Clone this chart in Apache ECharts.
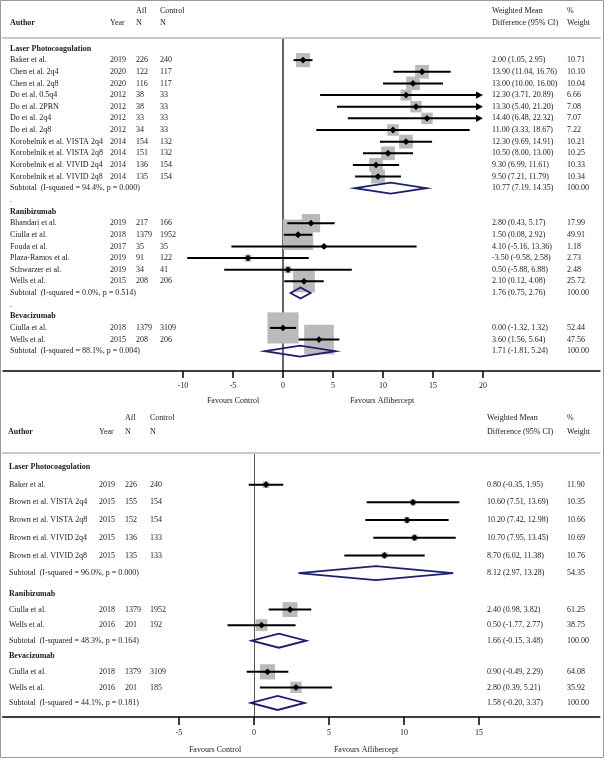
<!DOCTYPE html>
<html>
<head>
<meta charset="utf-8">
<script src="https://cdn.jsdelivr.net/npm/echarts@6/dist/echarts.min.js"></script>
<style>
  html, body { margin: 0; padding: 0; background: #fff; }
  #main { width: 605px; height: 759px; }
</style>
</head>
<body>
<div id="main"></div>
<script>
// ---------- upper forest plot ----------
// g = group header, s = study, t = subtotal, b = blank row
var topKind = ['g','s','s','s','s','s','s','s','s','s','s','s','t','b','g','s','s','s','s','s','s','t','b','g','s','s','t'];
var topLabel = ['Laser Photocoagulation',
  'Baker et al.','Chen et al. 2q4','Chen et al. 2q8','Do et al. 0.5q4','Do et al. 2PRN','Do et al. 2q4','Do et al. 2q8',
  'Korobelnik et al. VISTA 2q4','Korobelnik et al. VISTA 2q8','Korobelnik et al. VIVID 2q4','Korobelnik et al. VIVID 2q8',
  'Subtotal  (I-squared = 94.4%, p = 0.000)', '.',
  'Ranibizumab',
  'Bhandari et al.','Ciulla et al.','Fouda et al.','Plaza-Ramos et al.','Schwarzer et al.','Wells et al.',
  'Subtotal  (I-squared = 0.0%, p = 0.514)', '.',
  'Bevacizumab',
  'Ciulla et al.','Wells et al.',
  'Subtotal  (I-squared = 88.1%, p = 0.004)'];
var topYear = [null,'2019','2020','2020','2012','2012','2012','2012','2014','2014','2014','2014',null,null,null,'2019','2018','2017','2019','2019','2015',null,null,null,'2018','2015',null];
var topAflN = [null,226,122,116,38,38,33,34,154,151,136,135,null,null,null,217,1379,35,91,34,208,null,null,null,1379,208,null];
var topCtrlN = [null,240,117,117,33,33,33,33,132,132,154,154,null,null,null,166,1952,35,122,41,206,null,null,null,3109,206,null];
var topEst = [null,2.00,13.90,13.00,12.30,13.30,14.40,11.00,12.30,10.50,9.30,9.50,10.77,null,null,2.80,1.50,4.10,-3.50,0.50,2.10,1.76,null,null,0.00,3.60,1.71];
var topLo = [null,1.05,11.04,10.00,3.71,5.40,6.48,3.33,9.69,8.00,6.99,7.21,7.19,null,null,0.43,0.08,-5.16,-9.58,-5.88,0.12,0.75,null,null,-1.32,1.56,-1.81];
var topHi = [null,2.95,16.76,16.00,20.89,21.20,22.32,18.67,14.91,13.00,11.61,11.79,14.35,null,null,5.17,2.92,13.36,2.58,6.88,4.08,2.76,null,null,1.32,5.64,5.24];
var topWeight = [null,10.71,10.10,10.04,6.66,7.08,7.07,7.22,10.21,10.25,10.33,10.34,100.00,null,null,17.99,49.91,1.18,2.73,2.48,25.72,100.00,null,null,52.44,47.56,100.00];
var topTicks = [-10,-5,0,5,10,15,20];

// ---------- lower forest plot ----------
var botKind = ['g','s','s','s','s','s','t','g','s','s','t','g','s','s','t'];
var botLabel = ['Laser Photocoagulation',
  'Baker et al.','Brown et al. VISTA 2q4','Brown et al. VISTA 2q8','Brown et al. VIVID 2q4','Brown et al. VIVID 2q8',
  'Subtotal  (I-squared = 96.0%, p = 0.000)',
  'Ranibizumab','Ciulla et al.','Wells et al.',
  'Subtotal  (I-squared = 48.3%, p = 0.164)',
  'Bevacizumab','Ciulla et al.','Wells et al.',
  'Subtotal  (I-squared = 44.1%, p = 0.181)'];
var botYear = [null,'2019','2015','2015','2015','2015',null,null,'2018','2016',null,null,'2018','2016',null];
var botAflN = [null,226,155,152,136,135,null,null,1379,201,null,null,1379,201,null];
var botCtrlN = [null,240,154,154,133,133,null,null,1952,192,null,null,3109,185,null];
var botEst = [null,0.80,10.60,10.20,10.70,8.70,8.12,null,2.40,0.50,1.66,null,0.90,2.80,1.58];
var botLo = [null,-0.35,7.51,7.42,7.95,6.02,2.97,null,0.98,-1.77,-0.15,null,-0.49,0.39,-0.20];
var botHi = [null,1.95,13.69,12.98,13.45,11.38,13.28,null,3.82,2.77,3.48,null,2.29,5.21,3.37];
var botWeight = [null,11.90,10.35,10.66,10.69,10.76,54.35,null,61.25,38.75,100.00,null,64.08,35.92,100.00];
var botTicks = [-5,0,5,10,15];

var SERIF = '"Liberation Serif", "DejaVu Serif", serif';
var FS = 8;
var INK = '#1a1a1a';
var BOX = '#bababa';
var NAVY = '#1c1f6e';

var topPanel = {
  kind: topKind, label: topLabel, year: topYear, afl: topAflN, ctrl: topCtrlN,
  est: topEst, lo: topLo, hi: topHi, weight: topWeight,
  cols: [10, 110, 136, 160, 492, 567], boxK: 4.3, dHalf: 5.5, clipHi: 20, lw: 2
};
var botPanel = {
  kind: botKind, label: botLabel, year: botYear, afl: botAflN, ctrl: botCtrlN,
  est: botEst, lo: botLo, hi: botHi, weight: botWeight,
  cols: [9, 99, 125, 150, 487, 567], boxK: 1.9, dHalf: 7, clipHi: 15, lw: 2
};

function txt(x, y, s, bold) {
  return { type: 'text', x: x, y: y, style: {
    text: s, fill: INK, fontSize: FS, fontFamily: SERIF,
    fontWeight: bold ? 'bold' : 'normal', align: 'left', verticalAlign: 'middle' } };
}

function rowsData(from, to, offset) {
  var d = [];
  for (var i = from; i <= to; i++) d.push([0, i - offset, i]);
  return d;
}

function panelSeries(P, from, to, offset, xIdx, yIdx) {
  var data = rowsData(from, to, offset);
  var boxes = {
    type: 'custom', xAxisIndex: xIdx, yAxisIndex: yIdx, z: 2, data: data, silent: true,
    renderItem: function (params, api) {
      var i = api.value(2);
      if (P.kind[i] !== 's') return null;
      var c = api.coord([P.est[i], api.value(1)]);
      var s = P.boxK * Math.sqrt(P.weight[i]);
      return { type: 'rect', shape: { x: c[0] - s / 2, y: c[1] - s / 2, width: s, height: s }, style: { fill: BOX } };
    }
  };
  var marks = {
    type: 'custom', xAxisIndex: xIdx, yAxisIndex: yIdx, z: 3, data: data, silent: true,
    renderItem: function (params, api) {
      var i = api.value(2), r = api.value(1), k = P.kind[i];
      if (k === 's') {
        var hi = Math.min(P.hi[i], P.clipHi);
        var a = api.coord([P.lo[i], r]), b = api.coord([hi, r]), c = api.coord([P.est[i], r]);
        var kids = [
          { type: 'line', shape: { x1: a[0], y1: a[1], x2: b[0] - (P.hi[i] > P.clipHi ? 4 : 0), y2: b[1] }, style: { stroke: '#000', lineWidth: P.lw } },
          { type: 'polygon', shape: { points: [[c[0] - 3.4, c[1]], [c[0], c[1] - 3.4], [c[0] + 3.4, c[1]], [c[0], c[1] + 3.4]] }, style: { fill: '#000' } }
        ];
        if (P.hi[i] > P.clipHi) {
          kids.push({ type: 'polygon', shape: { points: [[b[0], b[1]], [b[0] - 7, b[1] - 3.6], [b[0] - 7, b[1] + 3.6]] }, style: { fill: '#000' } });
        }
        return { type: 'group', children: kids };
      }
      if (k === 't') {
        var l = api.coord([P.lo[i], r]), m = api.coord([P.est[i], r]), h = api.coord([P.hi[i], r]);
        return { type: 'polygon', shape: { points: [[l[0], l[1]], [m[0], m[1] - P.dHalf], [h[0], h[1]], [m[0], m[1] + P.dHalf]] },
          style: { fill: 'rgba(255,255,255,0)', stroke: NAVY, lineWidth: 1.8 } };
      }
      return null;
    }
  };
  var texts = {
    type: 'custom', xAxisIndex: xIdx, yAxisIndex: yIdx, z: 4, data: data, silent: true,
    renderItem: function (params, api) {
      var i = api.value(2), k = P.kind[i];
      var y = api.coord([0, api.value(1)])[1];
      var C = P.cols;
      var kids = [txt(C[0], y, P.label[i], k === 'g')];
      if (k === 's') {
        kids.push(txt(C[1], y, P.year[i]));
        kids.push(txt(C[2], y, String(P.afl[i])));
        kids.push(txt(C[3], y, String(P.ctrl[i])));
      }
      if (k === 's' || k === 't') {
        kids.push(txt(C[4], y, P.est[i].toFixed(2) + ' (' + P.lo[i].toFixed(2) + ', ' + P.hi[i].toFixed(2) + ')'));
        kids.push(txt(C[5], y, P.weight[i].toFixed(2)));
      }
      return { type: 'group', children: kids };
    }
  };
  return [boxes, marks, texts];
}

function headerText(x, y, s, bold, align) {
  return { type: 'text', x: x, y: y, silent: true, style: {
    text: s, fill: INK, fontSize: FS, fontFamily: SERIF, fontWeight: bold ? 'bold' : 'normal',
    align: align || 'left', verticalAlign: 'middle' } };
}

var chart = echarts.init(document.getElementById('main'), null, { renderer: 'canvas' });

var axisLbl = { fontFamily: SERIF, fontSize: FS, color: INK };
var noAxisBits = { axisTick: { show: false }, axisLabel: { show: false }, splitLine: { show: false } };

var option = {
  animation: false,
  backgroundColor: '#fff',
  grid: [
    { left: 3, top: 38, width: 597, height: 333 },
    { left: 2.75, top: 453, width: 597, height: 130 },
    { left: 2.75, top: 583, width: 597, height: 134 }
  ],
  xAxis: [
    { gridIndex: 0, type: 'value', position: 'bottom', min: -28, max: 31.7,
      axisLine: { onZero: false, lineStyle: { color: '#000', width: 1.5 } },
      axisTick: { customValues: topTicks, length: 7, lineStyle: { color: '#000', width: 1.5 } },
      axisLabel: Object.assign({ customValues: topTicks, margin: 11 }, axisLbl),
      splitLine: { show: false } },
    Object.assign({ gridIndex: 0, type: 'value', position: 'top', min: -28, max: 31.7,
      axisLine: { onZero: false, lineStyle: { color: '#c9c9c9', width: 2 } } }, noAxisBits),
    Object.assign({ gridIndex: 1, type: 'value', position: 'top', min: -16.75, max: 23.05,
      axisLine: { onZero: false, lineStyle: { color: '#c9c9c9', width: 2 } } }, noAxisBits),
    { gridIndex: 2, type: 'value', position: 'bottom', min: -16.75, max: 23.05,
      axisLine: { onZero: false, lineStyle: { color: '#000', width: 1.5 } },
      axisTick: { customValues: botTicks, length: 8, lineStyle: { color: '#000', width: 1.5 } },
      axisLabel: Object.assign({ customValues: botTicks, margin: 12 }, axisLbl),
      splitLine: { show: false } }
  ],
  yAxis: [
    Object.assign({ gridIndex: 0, type: 'value', inverse: true, min: -0.9, max: 27.7,
      axisLine: { show: true, onZero: true, lineStyle: { color: '#333', width: 1.5 } } }, noAxisBits),
    Object.assign({ gridIndex: 1, type: 'value', inverse: true, min: -0.79, max: 6.56,
      axisLine: { show: true, onZero: true, lineStyle: { color: '#555', width: 1 } } }, noAxisBits),
    Object.assign({ gridIndex: 2, type: 'value', inverse: true, min: -0.707, max: 7.9,
      axisLine: { show: true, onZero: true, lineStyle: { color: '#555', width: 1 } } }, noAxisBits)
  ],
  series: []
    .concat(panelSeries(topPanel, 0, topKind.length - 1, 0, 0, 0))
    .concat(panelSeries(botPanel, 0, 6, 0, 2, 1))
    .concat(panelSeries(botPanel, 7, botKind.length - 1, 7, 3, 2)),
  graphic: [
    { type: 'rect', silent: true, shape: { x: 0.5, y: 0.5, width: 603, height: 757 }, style: { fill: 'none', stroke: '#999', lineWidth: 1 } },
    // upper header
    headerText(136, 11, 'Afl'), headerText(160, 11, 'Control'),
    headerText(10, 23, 'Author', true), headerText(110, 23, 'Year'), headerText(136, 23, 'N'), headerText(160, 23, 'N'),
    headerText(492, 11, 'Weighted Mean'), headerText(492, 23, 'Difference (95% CI)'),
    headerText(567, 11, '%'), headerText(567, 23, 'Weight'),
    headerText(233, 401, 'Favours Control', false, 'center'),
    headerText(382, 401, 'Favours Aflibercept', false, 'center'),
    // lower header
    headerText(125, 418, 'Afl'), headerText(150, 418, 'Control'),
    headerText(8, 432, 'Author', true), headerText(99, 432, 'Year'), headerText(125, 432, 'N'), headerText(150, 432, 'N'),
    headerText(487, 418, 'Weighted Mean'), headerText(487, 432, 'Difference (95% CI)'),
    headerText(567, 418, '%'), headerText(567, 432, 'Weight'),
    headerText(215, 750, 'Favours Control', false, 'center'),
    headerText(366, 750, 'Favours Aflibercept', false, 'center')
  ]
};

chart.setOption(option);
</script>
</body>
</html>
